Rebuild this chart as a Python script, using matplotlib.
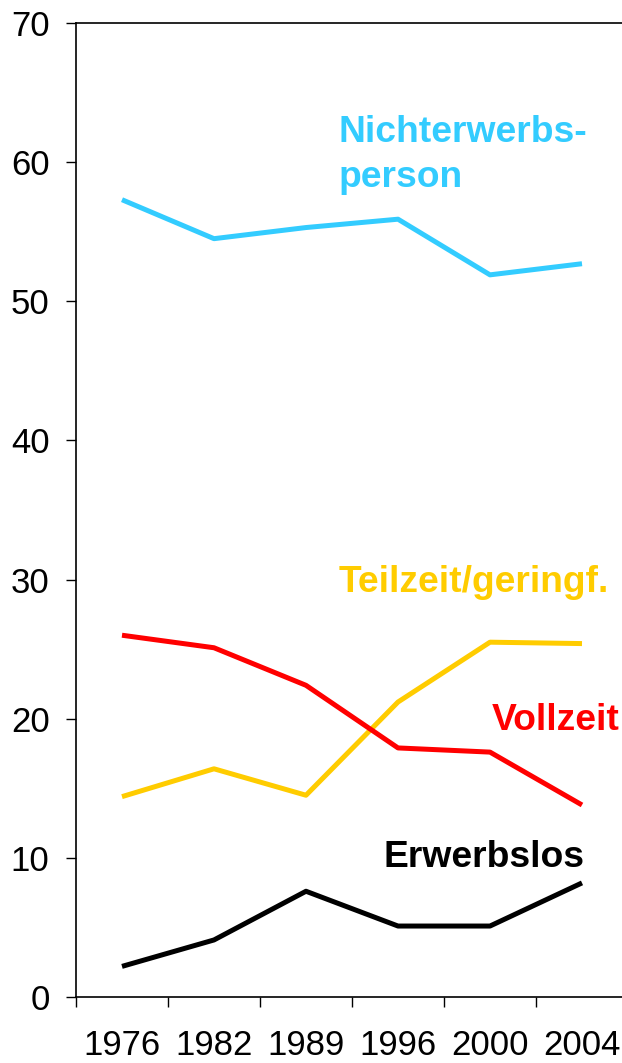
import matplotlib
matplotlib.use("Agg")
import matplotlib.pyplot as plt
import numpy as np

years = ["1976", "1982", "1989", "1996", "2000", "2004"]
nichterwerbs = [57.3, 54.5, 55.3, 55.9, 51.9, 52.7]
teilzeit = [14.4, 16.4, 14.5, 21.2, 25.5, 25.4]
vollzeit = [26.0, 25.1, 22.4, 17.9, 17.6, 13.8]
erwerbslos = [2.2, 4.1, 7.6, 5.1, 5.1, 8.2]

plt.rcParams["font.family"] = ["Liberation Sans", "DejaVu Sans"]

fig = plt.figure(figsize=(6.22, 10.63), dpi=100)
ax = fig.add_axes([76 / 622, 1 - 997 / 1063, (628 - 76) / 622, (997 - 23) / 1063])

x = np.arange(len(years))
lw = 3.6
ax.plot(x, nichterwerbs, color="#33CCFF", lw=lw, solid_capstyle="butt")
ax.plot(x, teilzeit, color="#FFCC00", lw=lw, solid_capstyle="butt")
ax.plot(x, vollzeit, color="#FF0000", lw=lw, solid_capstyle="butt")
ax.plot(x, erwerbslos, color="#000000", lw=lw, solid_capstyle="butt")

fs = 26.8
ax.text(2.35, 60.5, "Nichterwerbs-\nperson", color="#33CCFF", fontsize=fs,
        fontweight="bold", ha="left", va="center", linespacing=1.35)
ax.text(2.35, 29.8, "Teilzeit/geringf.", color="#FFCC00", fontsize=fs,
        fontweight="bold", ha="left", va="center")
ax.text(5.41, 19.9, "Vollzeit", color="#FF0000", fontsize=fs,
        fontweight="bold", ha="right", va="center")
ax.text(5.03, 10.0, "Erwerbslos", color="#000000", fontsize=fs,
        fontweight="bold", ha="right", va="center")

ax.set_xlim(-0.5, len(years) - 0.5)
ax.set_ylim(0, 70)
ax.set_yticks(np.arange(0, 71, 10))
ax.tick_params(axis="y", labelsize=25, length=7, width=1, direction="out", pad=12)

ax.set_xticks(np.arange(len(years) + 1) - 0.5)
ax.set_xticklabels([])
ax.set_xticks(x, minor=True)
ax.set_xticklabels(years, minor=True)
ax.tick_params(axis="x", which="major", length=7, width=1, direction="out")
ax.tick_params(axis="x", which="minor", length=0, labelsize=25, pad=23)

for side in ["left", "bottom", "top"]:
    ax.spines[side].set_linewidth(1.2)
ax.spines["right"].set_visible(False)

fig.savefig("out.png", dpi=100)
